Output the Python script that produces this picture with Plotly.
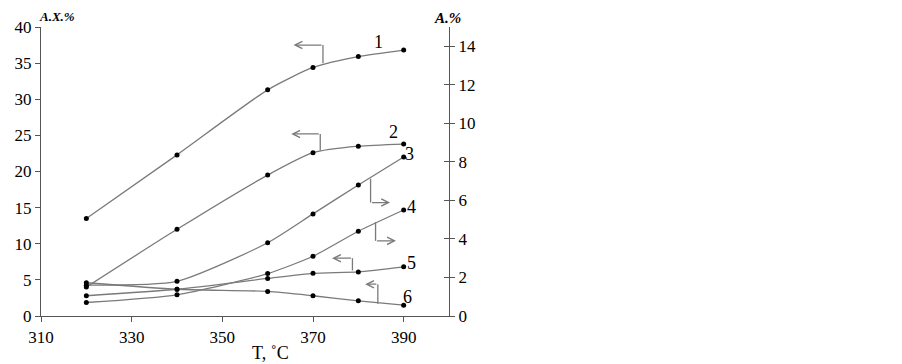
import plotly.graph_objects as go

T = [320, 340, 360, 370, 380, 390]
# left axis (A.X.%)
s1 = [13.5, 22.3, 31.3, 34.4, 35.9, 36.8]
s2 = [4.0, 12.0, 19.5, 22.6, 23.5, 23.8]
s5 = [2.8, 3.7, 5.2, 5.9, 6.1, 6.8]
s6 = [4.6, 3.7, 3.4, 2.8, 2.1, 1.5]
# right axis (A.%)
s3 = [1.6, 1.8, 3.8, 5.3, 6.8, 8.25]
s4 = [0.7, 1.1, 2.2, 3.1, 4.4, 5.5]

x_ticks = [310, 330, 350, 370, 390]
left_ticks = [0, 5, 10, 15, 20, 25, 30, 35, 40]
right_ticks = [0, 2, 4, 6, 8, 10, 12, 14]

labels = ["1", "2", "3", "4", "5", "6"]
label_pos = [(384.5, 37.9), (387.7, 25.4), (391.3, 22.4), (391.8, 15.1), (391.8, 7.3), (390.8, 2.6)]
# arrows: (x on curve, y on curve, y corner, x tip) in left-axis units
arrows = [(372.2, 35.0, 37.5, 365.7), (371.6, 22.9, 25.2, 365.2),
          (382.7, 19.0, 15.7, 387.0), (383.8, 13.0, 10.4, 388.3),
          (378.7, 6.3, 8.0, 374.2), (384.3, 1.7, 4.4, 381.5)]

LINE = "#7a7a7a"
FONT = "Liberation Serif"

fig = go.Figure()
for ys, axis in [(s1, "y"), (s2, "y"), (s3, "y2"), (s4, "y2"), (s5, "y"), (s6, "y")]:
    fig.add_trace(go.Scatter(x=T, y=ys, yaxis=axis, mode="lines+markers",
                             line=dict(color=LINE, width=1.3, shape="spline", smoothing=0.6),
                             marker=dict(color="black", size=5), showlegend=False))

shapes = []
annotations = []
for (xc, yc, ycorner, xtip) in arrows:
    shapes.append(dict(type="line", xref="x", yref="y", x0=xc, x1=xc, y0=yc, y1=ycorner,
                       line=dict(color=LINE, width=1.3)))
    annotations.append(dict(x=xtip, y=ycorner, ax=xc, ay=ycorner, xref="x", yref="y",
                            axref="x", ayref="y", text="", showarrow=True, arrowhead=5,
                            arrowsize=1.1, arrowwidth=1.3, arrowcolor=LINE, standoff=0))
for lab, (lx, ly) in zip(labels, label_pos):
    annotations.append(dict(x=lx, y=ly, xref="x", yref="y", text=lab, showarrow=False,
                            xanchor="center", yanchor="middle",
                            font=dict(family=FONT, size=18, color="black")))
annotations += [
    dict(x=57, y=17, xref="paper", yref="paper", text="<b><i>A.X.%</i></b>", showarrow=False,
         font=dict(family=FONT, size=13, color="black")),
    dict(x=447, y=18, xref="paper", yref="paper", text="<b><i>A.%</i></b>", showarrow=False,
         font=dict(family=FONT, size=15, color="black")),
    dict(x=270, y=353, xref="paper", yref="paper", text="T, ˚C", showarrow=False,
         font=dict(family=FONT, size=18, color="black")),
]
# page offset of 8px (default body margin) -> work in screen pixels
OFF = 8
W, H = 902 - OFF, 364 - OFF
PL, PR, PT, PB = 41, 449, 27, 316  # plot area in screen pixels
L, TOP = PL - OFF, PT - OFF
R = W - (PR - OFF)
B = H - (PB - OFF)
pw, ph = PR - PL, PB - PT
for a in annotations[-3:]:
    a["x"] = (a["x"] - PL) / pw
    a["y"] = (PB - a["y"]) / ph
    a["xanchor"] = "center"
    a["yanchor"] = "middle"

ax_common = dict(showgrid=False, zeroline=False, automargin=False, tickcolor="#555",
                 ticklen=5, tickfont=dict(family=FONT, size=17, color="black"))
fig.update_layout(
    width=W, height=H, margin=dict(l=L, r=R, t=TOP, b=B, autoexpand=False),
    plot_bgcolor="white", paper_bgcolor="white",
    font=dict(family=FONT, size=17, color="black"),
    xaxis=dict(range=[310, 400], tickvals=x_ticks, showline=True, linecolor="#555",
               linewidth=1.3, ticks="outside", **ax_common),
    yaxis=dict(range=[0, 40], tickvals=left_ticks, showline=True, linecolor="#555",
               linewidth=1.3, ticks="outside", **ax_common),
    yaxis2=dict(range=[0, 15], tickvals=right_ticks, overlaying="y", side="right",
                showline=True, linecolor="#555", linewidth=1.3, ticks="outside", **ax_common),
    yaxis3=dict(range=[0, 15], tickvals=right_ticks, overlaying="y", side="right",
                showline=False, ticks="inside", showticklabels=False, **ax_common),
    shapes=shapes, annotations=annotations,
)
fig.add_trace(go.Scatter(x=[None], y=[None], yaxis="y3", showlegend=False))
fig.write_html("out.html")
